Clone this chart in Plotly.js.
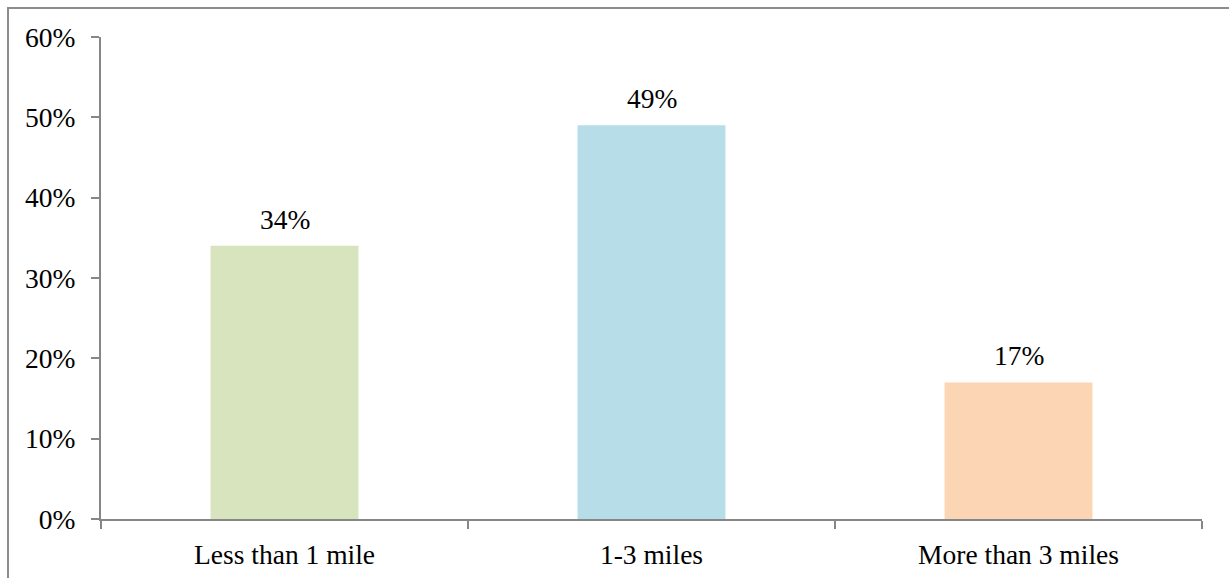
<!DOCTYPE html>
<html>
<head>
<meta charset="utf-8">
<script src="https://cdn.plot.ly/plotly-3.0.1.min.js"></script>
<style>
  html, body { margin: 0; padding: 0; background: #fff; }
  #chart { width: 1229px; height: 578px; }
</style>
</head>
<body>
<div id="chart"></div>
<script>
const categories = ["Less than 1 mile", "1-3 miles", "More than 3 miles"];
const values = [0.34, 0.49, 0.17];
const labels = ["34%", "49%", "17%"];
const colors = ["#D7E4BD", "#B7DDE8", "#FCD5B5"];
const yTicks = [0, 0.1, 0.2, 0.3, 0.4, 0.5, 0.6];
const yTickText = ["0%", "10%", "20%", "30%", "40%", "50%", "60%"];

const fontFam = "'Liberation Serif', 'Times New Roman', serif";
const fontSize = 27.5;
const axisColor = "#868686";

const W = 1229, H = 578;
const m = { l: 101, r: 27, t: 37, b: 59 };
const pw = W - m.l - m.r, ph = H - m.t - m.b;
const px = x => (x - m.l) / pw;
const py = y => (H - m.b - y) / ph;

const trace = {
  type: "bar",
  x: categories,
  y: values,
  marker: { color: colors, line: { width: 0 } },
  hoverinfo: "skip"
};

const annotations = categories.map((c, i) => ({
  x: c, y: values[i], xref: "x", yref: "y",
  text: labels[i], showarrow: false,
  yanchor: "bottom", yshift: 9,
  font: { family: fontFam, size: fontSize, color: "#000" }
}));

const layout = {
  width: W, height: H,
  margin: m,
  paper_bgcolor: "#fff", plot_bgcolor: "#fff",
  showlegend: false,
  bargap: 0.597,
  font: { family: fontFam, size: fontSize, color: "#000" },
  xaxis: {
    showgrid: false, zeroline: false,
    showline: true, linecolor: axisColor, linewidth: 2,
    ticks: "outside", ticklen: 8, tickwidth: 2, tickcolor: axisColor,
    tickson: "boundaries",
    tickfont: { family: fontFam, size: fontSize, color: "#000" },
    ticklabelstandoff: 10,
    fixedrange: true
  },
  yaxis: {
    range: [0, 0.6],
    tickvals: yTicks, ticktext: yTickText,
    showgrid: false, zeroline: false,
    showline: true, linecolor: axisColor, linewidth: 2,
    ticks: "outside", ticklen: 8, tickwidth: 2, tickcolor: axisColor,
    tickfont: { family: fontFam, size: fontSize, color: "#000" },
    ticklabelstandoff: 10,
    fixedrange: true
  },
  annotations: annotations,
  shapes: [{
    type: "rect", xref: "paper", yref: "paper",
    x0: px(8), x1: px(1260), y0: py(620), y1: py(8),
    line: { color: "#8c8c8c", width: 2 },
    fillcolor: "rgba(0,0,0,0)"
  }]
};

Plotly.newPlot("chart", [trace], layout, { staticPlot: true, displayModeBar: false });
</script>
</body>
</html>
